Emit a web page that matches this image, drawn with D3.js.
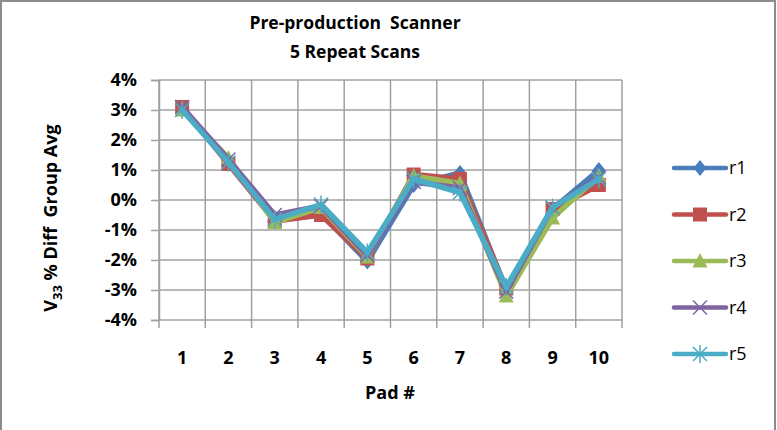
<!DOCTYPE html>
<html>
<head>
<meta charset="utf-8">
<script src="https://cdn.jsdelivr.net/npm/d3@7/dist/d3.min.js"></script>
<style>
  html, body { margin: 0; padding: 0; background: #fff; }
  svg { display: block; font-family: "Open Sans", "Noto Sans", sans-serif; }
</style>
</head>
<body>
<svg id="chart" width="777" height="430"></svg>
<script>
// Pads along the x axis
const pads = ["1", "2", "3", "4", "5", "6", "7", "8", "9", "10"];
// Percent difference from group average for each repeat scan
const r1 = [3.05, 1.25, -0.6, -0.45, -2.05, 0.5, 0.9, -3.0, -0.3, 1.0];
const r2 = [3.1, 1.2, -0.7, -0.5, -1.95, 0.85, 0.7, -2.95, -0.3, 0.5];
const r3 = [3.0, 1.4, -0.75, -0.25, -1.9, 0.8, 0.55, -3.2, -0.6, 0.8];
const r4 = [3.1, 1.35, -0.5, -0.2, -1.85, 0.6, 0.4, -3.05, -0.25, 0.75];
const r5 = [3.0, 1.25, -0.65, -0.15, -1.75, 0.7, 0.25, -2.9, -0.25, 0.7];
const seriesNames = ["r1", "r2", "r3", "r4", "r5"];
const seriesColors = ["#4A7EBB", "#C0504D", "#9BBB59", "#8064A2", "#4BACC6"];
const seriesMarkers = ["diamond", "square", "triangle", "cross", "star"];
const yTicks = [-4, -3, -2, -1, 0, 1, 2, 3, 4];

const series = [r1, r2, r3, r4, r5].map((vals, i) => ({
  name: seriesNames[i], color: seriesColors[i], marker: seriesMarkers[i], values: vals
}));

const svg = d3.select("#chart");

// Outer chart frame
svg.append("rect").attr("x", 1).attr("y", 1).attr("width", 774).attr("height", 440)
  .attr("fill", "#fff").attr("stroke", "#8c8c8c").attr("stroke-width", 2);

const plotLeft = 159, plotRight = 622, plotTop = 80, plotBottom = 320;
const x = d3.scaleBand().domain(pads).range([plotLeft, plotRight]).padding(0);
const y = d3.scaleLinear().domain([-4, 4]).range([plotBottom, plotTop]);

const gridColor = "#a0a0a0";

// Horizontal gridlines
svg.append("g").selectAll("line").data(yTicks).join("line")
  .attr("x1", plotLeft).attr("x2", plotRight).attr("y1", d => y(d)).attr("y2", d => y(d))
  .attr("stroke", gridColor).attr("stroke-width", 1.5);

// Y axis with ticks and percent labels
const yAxis = svg.append("g").attr("transform", `translate(${plotLeft},0)`)
  .call(d3.axisLeft(y).tickValues(yTicks).tickSize(8).tickPadding(14)
    .tickFormat(d => d + "%"));
yAxis.select(".domain").attr("stroke", gridColor).attr("stroke-width", 1.5);
yAxis.selectAll(".tick line").attr("stroke", gridColor).attr("stroke-width", 1.5);
yAxis.selectAll(".tick text").attr("font-size", 18).attr("font-weight", "bold")
  .attr("fill", "#000").attr("font-family", "Open Sans");

// Vertical gridlines at pad boundaries, extending below as tick marks
const edges = pads.map(p => x(p)).concat([x.range()[1]]);
svg.append("g").selectAll("line").data(edges).join("line")
  .attr("x1", d => d).attr("x2", d => d).attr("y1", plotTop).attr("y2", plotBottom + 8)
  .attr("stroke", gridColor).attr("stroke-width", 1.5);

// X tick labels
svg.append("g").selectAll("text").data(pads).join("text")
  .attr("x", d => x(d) + x.bandwidth() / 2).attr("y", 364)
  .attr("text-anchor", "middle").attr("font-size", 18).attr("font-weight", "bold")
  .text(d => d);

// Axis titles
svg.append("text").attr("x", 390).attr("y", 399).attr("text-anchor", "middle")
  .attr("font-size", 18).attr("font-weight", "bold").text("Pad #");

const yt = svg.append("text").attr("transform", "translate(57,218) rotate(-90)")
  .attr("text-anchor", "middle").attr("font-size", 18).attr("font-weight", "bold")
  .style("white-space", "pre");
yt.append("tspan").text("V");
yt.append("tspan").attr("font-size", 13).attr("dy", 5).text("33");
yt.append("tspan").attr("dy", -5).text(" % Diff  Group Avg");

// Title
svg.append("text").attr("x", 355).attr("y", 29).attr("text-anchor", "middle")
  .attr("font-size", 17.5).attr("font-weight", "bold").style("white-space", "pre")
  .text("Pre-production  Scanner");
svg.append("text").attr("x", 355).attr("y", 58).attr("text-anchor", "middle")
  .attr("font-size", 17.5).attr("font-weight", "bold").text("5 Repeat Scans");

// Marker drawing
function drawMarker(g, type, color) {
  if (type === "diamond") {
    g.append("path").attr("d", "M0,-8L6.5,0L0,8L-6.5,0Z").attr("fill", color);
  } else if (type === "square") {
    g.append("rect").attr("x", -7).attr("y", -7).attr("width", 14).attr("height", 14)
      .attr("fill", color);
  } else if (type === "triangle") {
    g.append("path").attr("d", "M0,-8L7.5,6.5L-7.5,6.5Z").attr("fill", color);
  } else if (type === "cross") {
    g.append("path").attr("d", "M-7,-7L7,7M-7,7L7,-7").attr("stroke", color)
      .attr("stroke-width", 1.5).attr("fill", "none");
  } else if (type === "star") {
    g.append("path").attr("d", "M-7,-7L7,7M-7,7L7,-7M0,-9L0,9").attr("stroke", color)
      .attr("stroke-width", 1.5).attr("fill", "none");
  }
}

const line = d3.line().x((d, i) => x(pads[i]) + x.bandwidth() / 2).y(d => y(d));

series.forEach(s => {
  const g = svg.append("g");
  g.append("path").datum(s.values).attr("d", line).attr("fill", "none")
    .attr("stroke", s.color).attr("stroke-width", 5.5).attr("stroke-linejoin", "round")
    .attr("stroke-linecap", "round");
  g.selectAll("g").data(s.values).join("g")
    .attr("transform", (d, i) => `translate(${x(pads[i]) + x.bandwidth() / 2},${y(d)})`)
    .each(function () { drawMarker(d3.select(this), s.marker, s.color); });
});

// Legend
const legendY = d3.scalePoint().domain(seriesNames).range([168, 354]);
series.forEach(s => {
  const g = svg.append("g").attr("transform", `translate(0,${legendY(s.name)})`);
  g.append("line").attr("x1", 674).attr("x2", 726).attr("stroke", s.color)
    .attr("stroke-width", 4.5).attr("stroke-linecap", "round");
  const mg = g.append("g").attr("transform", "translate(700,0)");
  drawMarker(mg, s.marker, s.color);
  g.append("text").attr("x", 729).attr("y", 6).attr("font-size", 18).attr("fill", "#000")
    .text(s.name);
});
</script>
</body>
</html>
